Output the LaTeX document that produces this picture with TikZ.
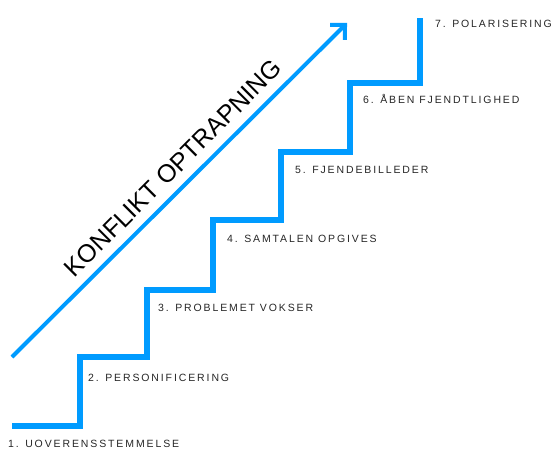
\documentclass[tikz,border=0pt]{standalone}
\usepackage{fontspec}
\setmainfont{Liberation Sans}
\newfontfamily\steplabelfont[LetterSpace=18]{Liberation Sans}
\usepackage{tikz}
\usepackage{xcolor}
\usetikzlibrary{arrows.meta, positioning}
\definecolor{stairblue}{RGB}{0,155,255}
\tikzstyle{stair} = [line width=6pt, draw=stairblue, miter limit=10, line join=miter]
\tikzstyle{uparrow} = [line width=4pt, draw=stairblue, -{Straight Barb[angle=90:15pt]}]
\tikzstyle{steplabel} = [anchor=base west, inner sep=0pt, text=black!85, font=\steplabelfont\fontsize{10.5}{12}\selectfont]
\tikzstyle{title} = [rotate=45, inner sep=0pt, text=black, font=\fontsize{25}{30}\selectfont]

\begin{document}
\begin{tikzpicture}[x=1pt, y=-1pt]
		\useasboundingbox (0,0) rectangle (556,449);
		% trappens hjoerner
		\coordinate (s0) at (12,426);
		\coordinate (s1) at (80,426);
		\coordinate (s2) at (80,357);
		\coordinate (s3) at (147,357);
		\coordinate (s4) at (147,290);
		\coordinate (s5) at (213,290);
		\coordinate (s6) at (213,220);
		\coordinate (s7) at (281,220);
		\coordinate (s8) at (281,152);
		\coordinate (s9) at (350,152);
		\coordinate (s10) at (350,83);
		\coordinate (s11) at (420,83);
		\coordinate (s12) at (420,18);
		\coordinate (a0) at (12,357);
		\coordinate (a1) at (347,23);
		
		\draw [stair] (s0) -- (s1) -- (s2) -- (s3) -- (s4) -- (s5) -- (s6) -- (s7) -- (s8) -- (s9) -- (s10) -- (s11) -- (s12);
		\draw [uparrow] (a0) -- (a1);
		
		\node (title) [title] at (173,168) {KONFLIKT OPTRAPNING};
		\node (trin1) [steplabel] at (8,447) {1. UOVERENSSTEMMELSE};
		\node (trin2) [steplabel] at (88,381) {2. PERSONIFICERING};
		\node (trin3) [steplabel] at (158,311) {3. PROBLEMET VOKSER};
		\node (trin4) [steplabel] at (227,242) {4. SAMTALEN OPGIVES};
		\node (trin5) [steplabel] at (295,174) {5. FJENDEBILLEDER};
		\node (trin6) [steplabel] at (363,104) {6. ÅBEN FJENDTLIGHED};
		\node (trin7) [steplabel] at (435,28) {7. POLARISERING};
	\end{tikzpicture}
\end{document}
